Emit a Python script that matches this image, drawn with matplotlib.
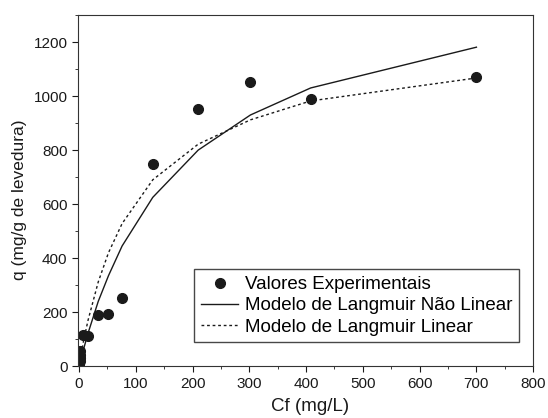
import numpy as np
import matplotlib

matplotlib.use("Agg")
import matplotlib.pyplot as plt
from matplotlib.ticker import MultipleLocator

plt.rcParams["font.family"] = ["Liberation Sans", "DejaVu Sans"]

# ── Data ──────────────────────────────────────────────────────────────────────
cf = [0.5, 0.8, 1.0, 1.2, 1.5, 2.0, 8, 16, 34, 52, 76, 130, 210, 302, 408, 700]
q_exp = [2, 10, 20, 30, 42, 55, 116, 111, 190, 194, 252, 748, 952, 1052, 990, 1069]

q_nao_linear = [4, 6, 8, 10, 12, 16, 62, 122, 240, 335, 445, 625, 800, 930, 1030, 1181]
q_linear = [6, 10, 12, 15, 18, 24, 92, 170, 312, 420, 528, 690, 822, 912, 982, 1067]

# ── Plot ──────────────────────────────────────────────────────────────────────
fig = plt.figure(figsize=(5.48, 4.18), dpi=100)
ax = fig.add_axes([0.142, 0.124, 0.831, 0.840])

ax.plot(cf, q_exp, "o", color="#1a1a1a", ms=7, label="Valores Experimentais")
ax.plot(cf, q_nao_linear, "-", color="#1a1a1a", lw=1.0,
        label="Modelo de Langmuir Não Linear")
ax.plot(cf, q_linear, ls=(0, (2, 2)), color="#1a1a1a", lw=1.0,
        label="Modelo de Langmuir Linear")

ax.set_xlim(-2, 800)
ax.set_ylim(0, 1300)
ax.xaxis.set_major_locator(MultipleLocator(100))
ax.xaxis.set_minor_locator(MultipleLocator(50))
ax.yaxis.set_major_locator(MultipleLocator(200))
ax.yaxis.set_minor_locator(MultipleLocator(100))
ax.tick_params(which="both", direction="out", top=False, right=False,
               labelsize=11, colors="#1a1a1a")
ax.tick_params(which="major", length=4)
ax.tick_params(which="minor", length=2.5)
for s in ax.spines.values():
    s.set_color("#333333")

ax.set_xlabel("Cf (mg/L)", fontsize=13.5, color="#1a1a1a")
ax.xaxis.set_label_coords(0.51, -0.092)
ax.set_ylabel("q (mg/g de levedura)", fontsize=12.5, color="#1a1a1a")
ax.yaxis.set_label_coords(-0.112, 0.473)

leg = ax.legend(loc="upper left", bbox_to_anchor=(0.2556, 0.2755), fontsize=13.5,
                frameon=True, fancybox=False, handlelength=2.0,
                handletextpad=0.36, borderpad=0.35, labelspacing=0.22,
                borderaxespad=0)
leg.get_frame().set_edgecolor("#1a1a1a")
leg.get_frame().set_linewidth(1.0)

fig.savefig("out.png", dpi=100)
